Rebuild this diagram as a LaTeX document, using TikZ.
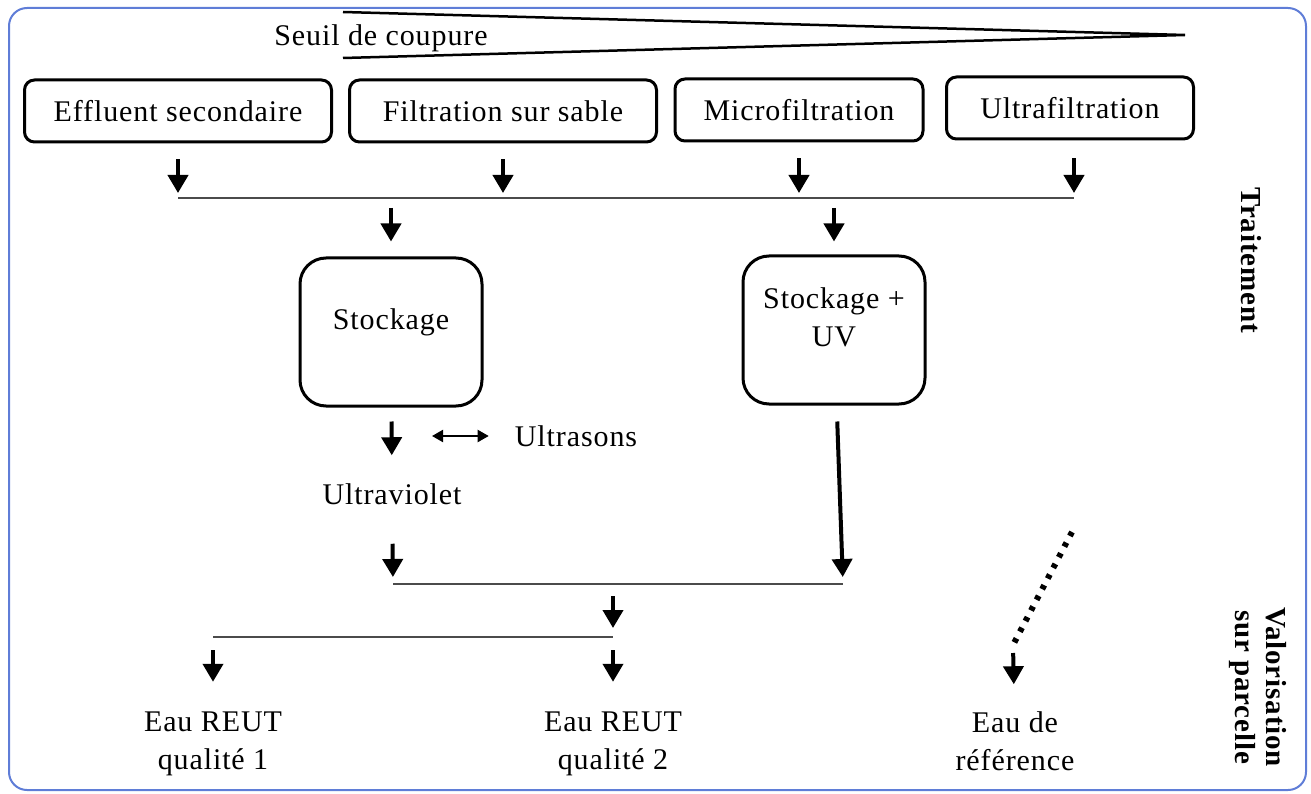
\documentclass[tikz,border=0pt]{standalone}
\usepackage{fontspec}
\setmainfont{Liberation Serif}[LetterSpace=3]
\usepackage{tikz}
\usetikzlibrary{arrows.meta}
\definecolor{framecol}{RGB}{95,125,215}
\definecolor{buscol}{RGB}{75,75,75}

\begin{document}
\begin{tikzpicture}[x=1pt, y=-1pt,
	font=\fontsize{30}{38}\selectfont,
	procbox/.style={shape=rectangle, draw=black, line width=3pt, rounded corners=10pt, minimum height=62pt, inner sep=0pt},
	storebox/.style={shape=rectangle, draw=black, line width=3pt, rounded corners=26pt, minimum width=182pt, minimum height=148pt, align=center, text depth=25pt, inner sep=0pt},
	txt/.style={inner sep=4pt, align=center},
	sidetxt/.style={inner sep=0pt, align=center, rotate=-90, font=\fontsize{29}{31}\selectfont\bfseries},
	flow/.style={-{Triangle[width=20pt 0 1, length=18pt 0 1]}, line width=4pt, black},
	bus/.style={-, line width=2.8pt, buscol},
	wedge/.style={line width=2.5pt, black},
	dotline/.style={line width=6pt, black, dash pattern=on 4.5pt off 7.5pt},
	twoway/.style={{Triangle[width=12pt 0 1, length=11pt 0 1]}-{Triangle[width=12pt 0 1, length=11pt 0 1]}, line width=2pt, black}]
	\useasboundingbox (0, 0) rectangle (1311, 794);
	\draw[framecol, line width=2pt, rounded corners=18pt] (9, 8) rectangle (1306, 790);
	
	% seuil de coupure
	\node[txt] (seuil) at (381, 38) {Seuil de coupure};
	\coordinate (wA) at (343, 12);
	\coordinate (wB) at (343, 58);
	\coordinate (wtip) at (1185, 35);
	\draw[wedge] (wA) -- (wtip) -- (wB);
	
	% traitements
	\node[procbox, minimum width=307pt] (eff) at (178, 111)     {Effluent secondaire};
	\node[procbox, minimum width=307pt] (filt) at (503, 111)    {Filtration sur sable};
	\node[procbox, minimum width=248pt] (micro) at (799, 110)   {Microfiltration};
	\node[procbox, minimum width=247pt] (ultra) at (1070, 108)  {Ultrafiltration};
	
	\coordinate (busAl) at (178, 198);
	\coordinate (busAr) at (1074, 198);
	\path[bus] (busAl) edge (busAr);
	\path[flow, shorten <=16pt, shorten >=5pt] (eff) edge (eff |- busAl);
	\path[flow, shorten <=16pt, shorten >=5pt] (filt) edge (filt |- busAl);
	\path[flow, shorten <=16pt, shorten >=5pt] (micro) edge (micro |- busAl);
	\path[flow, shorten <=18pt, shorten >=5pt] (ultra.south -| busAr) edge (busAr);
	
	\node[storebox] (stock) at (391, 332)   {Stockage};
	\node[storebox] (stockuv) at (834, 330) {Stockage +\\UV};
	\path[flow, shorten <=10pt, shorten >=15pt] (stock |- busAl) edge (stock);
	\path[flow, shorten <=10pt, shorten >=13pt] (stockuv |- busAl) edge (stockuv);
	
	% desinfection
	\node[txt] (uviolet) at (392, 494)   {Ultraviolet};
	\node[txt] (ultrasons) at (576, 436) {Ultrasons};
	\coordinate (usl) at (432, 436);
	\path[twoway, shorten >=22pt] (usl) edge (ultrasons);
	\path[flow, shorten <=14pt, shorten >=24pt] (stock) edge (uviolet);
	
	\coordinate (busBl) at (393, 584);
	\coordinate (busBr) at (843, 584);
	\coordinate (busBm) at (613, 584);
	\path[bus] (busBl) edge (busBr);
	\path[flow, shorten <=35pt, shorten >=7pt] (uviolet) edge (busBl);
	\path[flow, shorten <=16pt, shorten >=7pt] (stockuv) edge (busBr);
	
	% valorisation
	\coordinate (busCl) at (213, 637);
	\coordinate (busCr) at (613, 637);
	\path[bus] (busCl) edge (busCr);
	\path[flow, shorten <=12pt, shorten >=9pt] (busBm) edge (busCr);
	
	\node[txt] (reut1) at (213, 744) {Eau REUT\\qualité 1};
	\node[txt] (reut2) at (613, 744) {Eau REUT\\qualité 2};
	\node[txt] (refe) at (1015, 741) {Eau de\\référence};
	\path[flow, shorten <=13pt, shorten >=26pt] (busCl) edge (reut1);
	\path[flow, shorten <=13pt, shorten >=26pt] (busCr) edge (reut2);
	
	\coordinate (refdot) at (1072, 532);
	\coordinate (refbend) at (1013, 645);
	\draw[dotline] (refdot) -- (refbend);
	\path[flow, shorten <=8pt, shorten >=23pt] (refbend) edge (refe);
	
	\node[sidetxt] (trait) at (1251, 260) {Traitement};
	\node[sidetxt] (valo) at (1258, 687)  {Valorisation\\sur parcelle};
\end{tikzpicture}
\end{document}
